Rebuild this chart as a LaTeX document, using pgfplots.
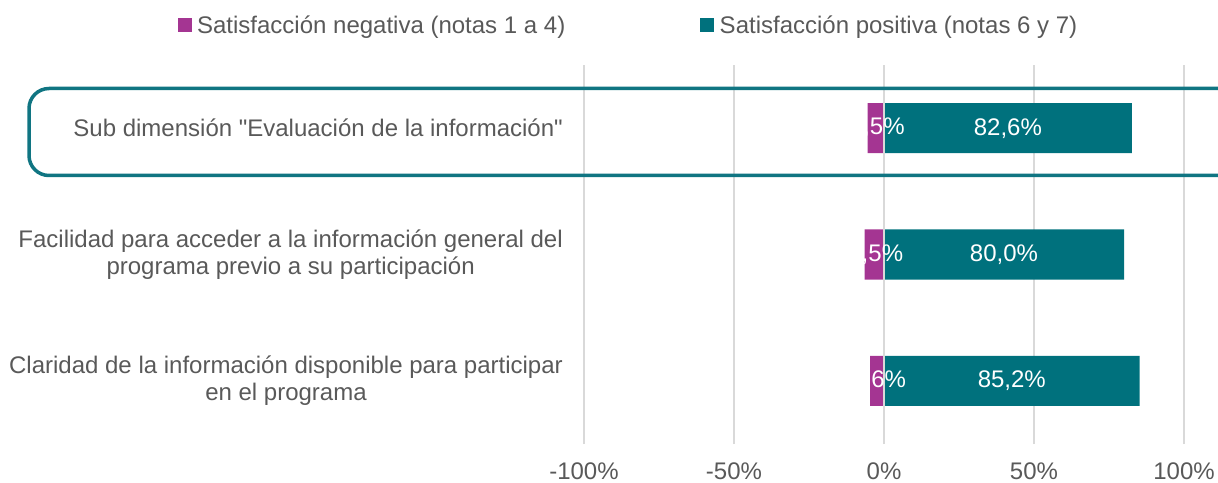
\documentclass[border=0pt]{standalone}
\usepackage{fontspec}
\setmainfont{Liberation Sans}
\newfontfamily\lib{Liberation Sans}
\usepackage{pgfplots}
\usepackage{pgfplotstable}
\pgfplotsset{compat=1.18}
\definecolor{negc}{RGB}{164,53,146}
\definecolor{posc}{RGB}{0,113,125}
\definecolor{boxc}{RGB}{16,117,130}
\definecolor{txtc}{RGB}{89,89,89}
\definecolor{gridc}{RGB}{217,217,217}
\newcommand{\fs}{\lib\fontsize{24}{27}\selectfont}

\pgfplotstableread{
y neg pos neglab poslab
0 -4.6 85.2 4,6 85,2
1 -6.5 80.0 6,5 80,0
2 -5.5 82.6 5,5 82,6
}\data

\begin{document}
\begin{tikzpicture}
\path[use as bounding box] (0,0) rectangle (1218pt,482pt);
\clip (0,0) rectangle (1218pt,482pt);
\begin{axis}[
  at={(584pt,38pt)}, anchor=south west,
  scale only axis, width=634pt, height=379pt,
  xmin=-100, xmax=111.333, ymin=-0.5, ymax=2.5,
  enlargelimits=false,
  axis line style={draw=none},
  major tick length=0pt,
  xtick={-100,-50,0,50,100},
  xticklabels={-100\%,-50\%,0\%,50\%,100\%},
  ytick={0,1,2},
  yticklabels={{Claridad de la información disponible para participar\\en el programa},{Facilidad para acceder a la información general del\\programa previo a su participación},{Sub dimensión "Evaluación de la información"}},
  yticklabel style={align=center, font=\fs, text=txtc, inner sep=0pt, anchor=east, xshift=-21pt},
  xticklabel style={font=\fs, text=txtc, inner sep=0pt, anchor=center, yshift=-27pt},
  xmajorgrids, grid style={gridc, line width=2pt},
  legend columns=2,
  legend style={at={(0.0686,1.1055)}, anchor=center, draw=none, fill=none, inner sep=0pt,
    nodes={inner sep=0pt, font=\fs, text=txtc},
    /tikz/every odd column/.append style={column sep=6pt},
    /tikz/every even column/.append style={column sep=135pt}},
]
\addlegendimage{legend image code/.code={\fill[negc] (0pt,-6.5pt) rectangle (13pt,6.5pt);}}
\addlegendentry{Satisfacción negativa (notas 1 a 4)}
\addlegendimage{legend image code/.code={\fill[posc] (0pt,-6.5pt) rectangle (13pt,6.5pt);}}
\addlegendentry{Satisfacción positiva (notas 6 y 7)}

\addplot[xbar, bar width=50pt, bar shift=0pt, fill=negc, draw=none, forget plot] table[x=neg, y=y]{\data};
\addplot[xbar, bar width=50pt, bar shift=0pt, fill=posc, draw=none, forget plot] table[x=pos, y=y]{\data};
\draw[gridc, line width=2pt] (axis cs:0,-0.5) -- (axis cs:0,2.5);
\addplot[draw=none, forget plot, point meta=explicit symbolic,
  nodes near coords={\pgfplotspointmeta\%},
  nodes near coords style={font=\fs, text=white, anchor=center, inner sep=0pt}]
  table[x expr=\thisrow{pos}/2, y=y, meta=poslab]{\data};
\addplot[draw=none, forget plot, point meta=explicit symbolic,
  nodes near coords={\pgfplotspointmeta\%},
  nodes near coords style={font=\fs, text=white, anchor=center, inner sep=0pt, xshift=1.5pt}]
  table[x expr=\thisrow{neg}/2, y=y, meta=neglab]{\data};
\end{axis}
\draw[boxc, line width=3.5pt, rounded corners=20pt] (29pt,306.5pt) rectangle (1260pt,393.5pt);
\end{tikzpicture}
\end{document}
